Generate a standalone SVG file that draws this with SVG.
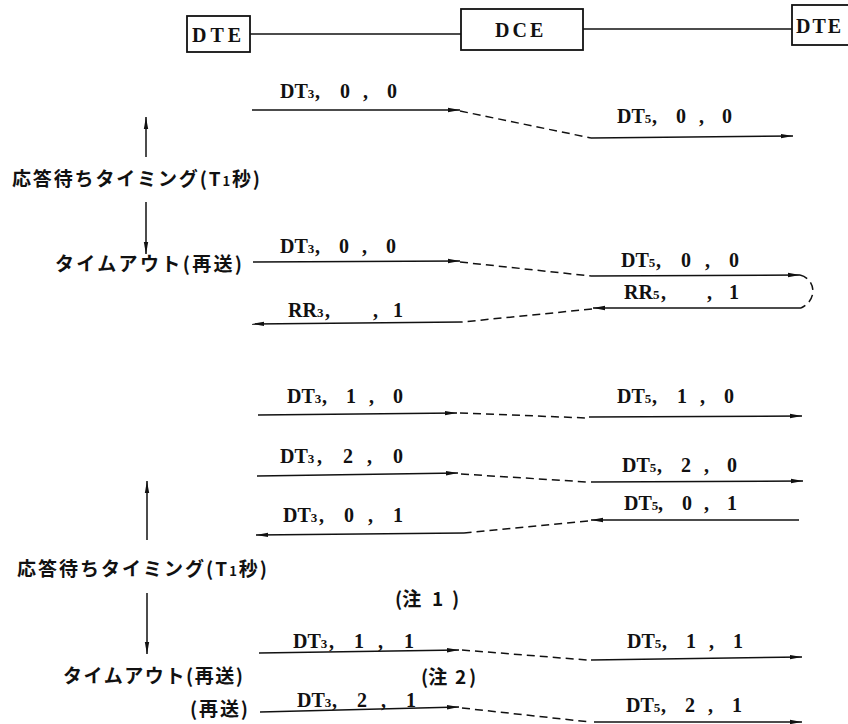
<svg xmlns="http://www.w3.org/2000/svg" width="848" height="724" viewBox="0 0 848 724">
<style>
.box{fill:#fff;stroke:#111;stroke-width:1.8}
.ln{fill:none;stroke:#111;stroke-width:1.5}
.ds{fill:none;stroke:#111;stroke-width:1.5;stroke-dasharray:8 5}
.ar{marker-end:url(#ah)}
.lt{font-family:"Liberation Serif","DejaVu Serif",serif;font-size:20px;font-weight:bold;fill:#111}
.jp{font-family:"Noto Sans CJK JP","Noto Sans",sans-serif;font-size:19px;font-weight:bold;fill:#111}
.sb{font-size:13px}
</style>
<defs>
<marker id="ah" viewBox="0 0 12 6" refX="12" refY="3" markerWidth="12" markerHeight="6" markerUnits="userSpaceOnUse" orient="auto">
<path d="M0,0.8 L12,3 L0,5.2 Z" fill="#111"/>
</marker>
</defs>
<rect width="848" height="724" fill="#fff"/>
<g id="dte-left"><rect class="box" x="187" y="16" width="63" height="36"/><text class="lt" x="192" y="42" letter-spacing="4">DTE</text></g>
<g id="dce"><rect class="box" x="461" y="9" width="122" height="41"/><text class="lt" x="495" y="37" letter-spacing="3">DCE</text></g>
<g id="dte-right"><rect class="box" x="792" y="5" width="62" height="40"/><text class="lt" x="796" y="33" letter-spacing="2">DTE</text></g>
<g id="connectors">
<line class="ln" x1="250" y1="34" x2="461" y2="34"/>
<line class="ln" x1="583" y1="29" x2="792" y2="29"/>
<line class="ln ar" x1="146" y1="157" x2="146" y2="117"/>
<line class="ln ar" x1="146" y1="202" x2="146" y2="254"/>
<line class="ln ar" x1="147" y1="540" x2="147" y2="481"/>
<line class="ln ar" x1="147" y1="593" x2="147" y2="654"/>
<line class="ln ar" x1="252" y1="110" x2="460" y2="110"/>
<line class="ds" x1="460" y1="111" x2="591" y2="138"/>
<line class="ln ar" x1="591" y1="138" x2="793" y2="136"/>
<line class="ln ar" x1="253" y1="262" x2="460" y2="261"/>
<line class="ds" x1="460" y1="262" x2="591" y2="276"/>
<line class="ln ar" x1="591" y1="276" x2="800" y2="275"/>
<path class="ds" d="M800,275 C816,279 818,300 801,308"/>
<line class="ln ar" x1="801" y1="308" x2="593" y2="308"/>
<line class="ds" x1="592" y1="309" x2="462" y2="322"/>
<line class="ln ar" x1="462" y1="322" x2="252" y2="324"/>
<line class="ln ar" x1="258" y1="415" x2="457" y2="413"/>
<line class="ds" x1="460" y1="413" x2="587" y2="418"/>
<line class="ln ar" x1="589" y1="417" x2="802" y2="416"/>
<line class="ln ar" x1="257" y1="476" x2="458" y2="473"/>
<line class="ds" x1="461" y1="474" x2="587" y2="482"/>
<line class="ln ar" x1="591" y1="482" x2="803" y2="481"/>
<line class="ln ar" x1="799" y1="520" x2="591" y2="520"/>
<line class="ds" x1="588" y1="521" x2="464" y2="533"/>
<line class="ln ar" x1="464" y1="533" x2="256" y2="535"/>
<line class="ln ar" x1="259" y1="653" x2="459" y2="650"/>
<line class="ds" x1="462" y1="650" x2="587" y2="660"/>
<line class="ln ar" x1="591" y1="660" x2="802" y2="657"/>
<line class="ln ar" x1="260" y1="712" x2="459" y2="707"/>
<line class="ds" x1="462" y1="708" x2="590" y2="722"/>
<line class="ln ar" x1="594" y1="722" x2="802" y2="722"/>
</g>
<g id="labels">
<text class="lt" x="280" y="98">DT<tspan class="sb">3</tspan><tspan x="315">,</tspan><tspan x="340">0</tspan><tspan x="363">,</tspan><tspan x="387">0</tspan></text>
<text class="lt" x="617" y="123">DT<tspan class="sb">5</tspan><tspan x="652">,</tspan><tspan x="676">0</tspan><tspan x="699">,</tspan><tspan x="722">0</tspan></text>
<text class="jp" x="12" y="186" textLength="248">応答待ちタイミング(T<tspan class="sb">1</tspan>秒)</text>
<text class="lt" x="280" y="253">DT<tspan class="sb">3</tspan><tspan x="315">,</tspan><tspan x="339">0</tspan><tspan x="362">,</tspan><tspan x="386">0</tspan></text>
<text class="jp" x="55" y="271" textLength="187">タイムアウト(再送)</text>
<text class="lt" x="621" y="267">DT<tspan class="sb">5</tspan><tspan x="656">,</tspan><tspan x="681">0</tspan><tspan x="705">,</tspan><tspan x="729">0</tspan></text>
<text class="lt" x="624" y="299" font-size="19">RR<tspan class="sb">5</tspan><tspan x="661">,</tspan><tspan x="707">,</tspan><tspan x="729">1</tspan></text>
<text class="lt" x="288" y="317" font-size="19">RR<tspan class="sb">3</tspan><tspan x="325">,</tspan><tspan x="373">,</tspan><tspan x="393">1</tspan></text>
<text class="lt" x="287" y="403">DT<tspan class="sb">3</tspan><tspan x="322">,</tspan><tspan x="346">1</tspan><tspan x="369">,</tspan><tspan x="393">0</tspan></text>
<text class="lt" x="617" y="403">DT<tspan class="sb">5</tspan><tspan x="652">,</tspan><tspan x="677">1</tspan><tspan x="700">,</tspan><tspan x="724">0</tspan></text>
<text class="lt" x="280" y="463">DT<tspan class="sb">3</tspan><tspan x="317">,</tspan><tspan x="343">2</tspan><tspan x="367">,</tspan><tspan x="393">0</tspan></text>
<text class="lt" x="622" y="472">DT<tspan class="sb">5</tspan><tspan x="657">,</tspan><tspan x="681">2</tspan><tspan x="704">,</tspan><tspan x="727">0</tspan></text>
<text class="lt" x="624" y="510">DT<tspan class="sb">5</tspan><tspan x="658">,</tspan><tspan x="682">0</tspan><tspan x="704">,</tspan><tspan x="727">1</tspan></text>
<text class="lt" x="283" y="522">DT<tspan class="sb">3</tspan><tspan x="319">,</tspan><tspan x="344">0</tspan><tspan x="368">,</tspan><tspan x="393">1</tspan></text>
<text class="jp" x="17" y="576" textLength="250">応答待ちタイミング(T<tspan class="sb">1</tspan>秒)</text>
<text class="jp" x="395" y="606" font-size="16">(注<tspan x="432">1</tspan><tspan x="452">)</tspan></text>
<text class="lt" x="293" y="648">DT<tspan class="sb">3</tspan><tspan x="329">,</tspan><tspan x="354">1</tspan><tspan x="378">,</tspan><tspan x="404">1</tspan></text>
<text class="lt" x="627" y="648">DT<tspan class="sb">5</tspan><tspan x="662">,</tspan><tspan x="686">1</tspan><tspan x="709">,</tspan><tspan x="733">1</tspan></text>
<text class="jp" x="63" y="683" textLength="180">タイムアウト(再送)</text>
<text class="jp" x="421" y="684" font-size="16">(注<tspan x="455">2</tspan><tspan x="469">)</tspan></text>
<text class="lt" x="297" y="707">DT<tspan class="sb">3</tspan><tspan x="332">,</tspan><tspan x="357">2</tspan><tspan x="381">,</tspan><tspan x="406">1</tspan></text>
<text class="lt" x="626" y="712">DT<tspan class="sb">5</tspan><tspan x="661">,</tspan><tspan x="685">2</tspan><tspan x="708">,</tspan><tspan x="732">1</tspan></text>
<text class="jp" x="190" y="716" textLength="58">(再送)</text>
</g>
</svg>
